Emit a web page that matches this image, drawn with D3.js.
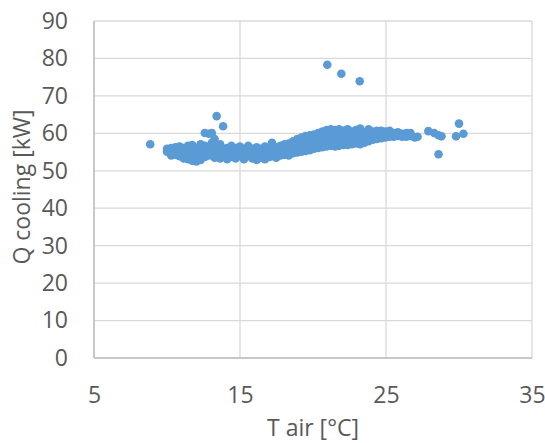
<!DOCTYPE html>
<html>
<head>
<meta charset="utf-8">
<script src="https://cdn.jsdelivr.net/npm/d3@7"></script>
<style>
    body { margin: 0; background: #fff; }
    text { font-family: "Open Sans", sans-serif; fill: #595959; }
</style>
</head>
<body>
<div></div>
<script>
var width = 545;
var height = 443;

// T air [°C], Q cooling [kW]
var points = [
    [8.85, 57.1],
    [10.0, 55.1], [10.0, 55.9],
    [10.29, 54.5], [10.29, 56.1], [10.29, 54.1],
    [10.58, 55.5], [10.58, 54.3], [10.58, 56.3],
    [10.86, 53.9], [10.86, 55.3], [10.86, 56.5], [10.86, 54.7],
    [11.15, 53.3], [11.15, 54.9], [11.15, 56.1],
    [11.44, 53.1], [11.44, 54.3], [11.44, 55.7], [11.44, 56.7],
    [11.73, 52.7], [11.73, 53.9], [11.73, 55.3], [11.73, 56.9],
    [12.01, 52.5], [12.01, 53.5], [12.01, 54.9], [12.01, 56.1],
    [12.3, 52.9], [12.3, 54.3], [12.3, 55.9], [12.3, 57.1],
    [12.59, 53.7], [12.59, 55.3], [12.59, 56.7], [12.59, 60.1],
    [12.87, 59.9], [12.87, 54.1], [12.87, 55.9],
    [13.07, 60.1], [13.07, 54.9], [13.07, 57.5],
    [13.26, 58.5], [13.26, 53.5], [13.26, 55.7],
    [13.4, 64.6], [13.45, 54.5], [13.45, 56.5],
    [13.64, 53.3], [13.64, 55.3], [13.64, 57.1],
    [13.84, 61.9], [13.84, 54.1], [13.84, 55.9],
    [14.12, 53.1], [14.12, 54.7], [14.12, 56.1],
    [14.41, 53.7], [14.41, 55.5], [14.41, 56.7],
    [14.7, 53.3], [14.7, 54.9], [14.7, 56.1],
    [14.99, 54.1], [14.99, 55.3], [14.99, 56.5],
    [15.27, 53.1], [15.27, 54.5], [15.27, 55.9],
    [15.56, 53.9], [15.56, 55.3], [15.56, 56.7],
    [15.85, 53.3], [15.85, 54.7], [15.85, 55.9],
    [16.14, 52.9], [16.14, 54.3], [16.14, 55.5], [16.14, 56.3],
    [16.42, 53.5], [16.42, 54.9], [16.42, 55.9],
    [16.71, 53.1], [16.71, 54.5], [16.71, 55.7], [16.71, 56.5],
    [17.0, 53.7], [17.0, 55.1], [17.0, 56.1],
    [17.19, 57.5], [17.19, 53.9], [17.19, 55.7],
    [17.48, 53.5], [17.48, 54.9], [17.48, 56.3],
    [17.77, 54.1], [17.77, 55.5], [17.77, 56.7],
    [18.05, 54.3], [18.05, 55.7], [18.05, 57.1],
    [18.34, 54.1], [18.34, 55.3], [18.34, 56.5], [18.34, 57.3],
    [18.63, 54.7], [18.63, 55.9], [18.63, 57.1], [18.63, 57.9],
    [18.92, 54.9], [18.92, 56.3], [18.92, 57.5], [18.92, 58.5],
    [19.21, 55.1], [19.21, 56.5], [19.21, 57.7], [19.21, 58.9],
    [19.49, 55.3], [19.49, 56.7], [19.49, 58.1], [19.49, 59.3],
    [19.78, 55.5], [19.78, 57.1], [19.78, 58.5], [19.78, 59.5],
    [20.07, 55.9], [20.07, 57.3], [20.07, 58.7], [20.07, 59.7],
    [20.36, 56.1], [20.36, 57.5], [20.36, 58.9], [20.36, 60.1],
    [20.64, 56.3], [20.64, 57.9], [20.64, 59.3], [20.64, 60.5],
    [20.93, 56.5], [20.93, 58.1], [20.93, 59.5], [20.93, 60.9],
    [21.22, 56.7], [21.22, 58.3], [21.22, 59.9], [21.22, 61.1],
    [21.51, 56.5], [21.51, 57.9], [21.51, 59.3], [21.51, 60.9],
    [21.79, 56.7], [21.79, 58.1], [21.79, 59.7], [21.79, 61.1],
    [22.08, 56.9], [22.08, 58.5], [22.08, 59.9], [22.08, 60.7],
    [22.37, 56.9], [22.37, 58.3], [22.37, 60.1], [22.37, 61.1],
    [22.66, 57.1], [22.66, 58.7], [22.66, 59.9], [22.66, 60.5],
    [22.94, 57.3], [22.94, 58.5], [22.94, 59.7], [22.94, 60.9],
    [23.23, 57.1], [23.23, 58.9], [23.23, 60.1], [23.23, 61.3],
    [23.52, 57.5], [23.52, 59.1], [23.52, 60.3],
    [23.81, 57.9], [23.81, 59.1], [23.81, 60.5], [23.81, 61.1],
    [24.1, 58.3], [24.1, 59.3], [24.1, 60.5],
    [24.38, 58.5], [24.38, 59.5], [24.38, 60.7],
    [24.67, 58.7], [24.67, 59.7], [24.67, 60.7],
    [24.96, 58.9], [24.96, 59.9], [24.96, 60.5],
    [25.25, 59.1], [25.25, 59.9], [25.25, 60.7],
    [25.53, 59.1], [25.53, 60.1],
    [25.82, 59.3], [25.82, 60.3],
    [26.11, 59.1], [26.11, 59.9],
    [26.4, 59.1], [26.4, 60.1],
    [26.68, 59.3], [26.68, 60.1],
    [26.97, 58.9], [27.16, 59.1],
    [20.98, 78.3], [21.94, 75.9], [23.2, 73.9],
    [27.9, 60.6], [28.3, 60.1], [28.6, 59.5], [28.8, 59.2], [28.6, 54.4],
    [30.0, 62.6], [29.8, 59.2], [30.3, 59.9]
];

var xTicks = [5, 15, 25, 35];
var yTicks = [0, 10, 20, 30, 40, 50, 60, 70, 80, 90];

// plot area edges (named so they don't clash with window.top)
var plotLeft = 94, plotRight = 532, plotTop = 21, plotBottom = 358;

var x = d3.scaleLinear().domain([5, 35]).range([plotLeft, plotRight]);
var y = d3.scaleLinear().domain([0, 90]).range([plotBottom, plotTop]);

var svg = d3.select("div")
    .append("svg")
    .attr("width", width)
    .attr("height", height);

// gridlines
svg.append("g")
    .selectAll("line")
    .data(yTicks)
    .enter().append("line")
    .attr("x1", plotLeft).attr("x2", plotRight)
    .attr("y1", d => y(d)).attr("y2", d => y(d))
    .attr("stroke", "#d9d9d9")
    .attr("stroke-width", 1.3);

svg.append("g")
    .selectAll("line")
    .data(xTicks)
    .enter().append("line")
    .attr("x1", d => x(d)).attr("x2", d => x(d))
    .attr("y1", plotTop).attr("y2", plotBottom)
    .attr("stroke", "#d9d9d9")
    .attr("stroke-width", 1.3);

// axis lines
svg.append("line")
    .attr("x1", plotLeft).attr("x2", plotLeft)
    .attr("y1", plotTop).attr("y2", plotBottom)
    .attr("stroke", "#bfbfbf").attr("stroke-width", 1.5);
svg.append("line")
    .attr("x1", plotLeft).attr("x2", plotRight)
    .attr("y1", plotBottom).attr("y2", plotBottom)
    .attr("stroke", "#bfbfbf").attr("stroke-width", 1.5);

// tick labels through d3 axes, domain/ticks hidden
var yAxis = svg.append("g")
    .attr("transform", "translate(" + plotLeft + ",0)")
    .call(d3.axisLeft(y).tickValues(yTicks).tickSize(0).tickPadding(26));
var xAxis = svg.append("g")
    .attr("transform", "translate(0," + plotBottom + ")")
    .call(d3.axisBottom(x).tickValues(xTicks).tickSize(0).tickPadding(29));
[yAxis, xAxis].forEach(function (a) {
    a.select(".domain").remove();
    a.selectAll("text")
        .style("font-family", "'Open Sans', sans-serif")
        .style("font-size", "23px")
        .attr("fill", "#595959");
});

// points
svg.append("g")
    .selectAll("circle")
    .data(points)
    .enter().append("circle")
    .attr("cx", d => x(d[0]))
    .attr("cy", d => y(d[1]))
    .attr("r", 4.3)
    .attr("fill", "#5b9bd5");

// axis titles
svg.append("text")
    .attr("x", (plotLeft + plotRight) / 2)
    .attr("y", 436)
    .attr("text-anchor", "middle")
    .style("font-size", "23px")
    .text("T air [°C]");

svg.append("text")
    .attr("transform", "translate(30," + 187 + ") rotate(-90)")
    .attr("text-anchor", "middle")
    .style("font-size", "23px")
    .text("Q cooling [kW]");
</script>
</body>
</html>
